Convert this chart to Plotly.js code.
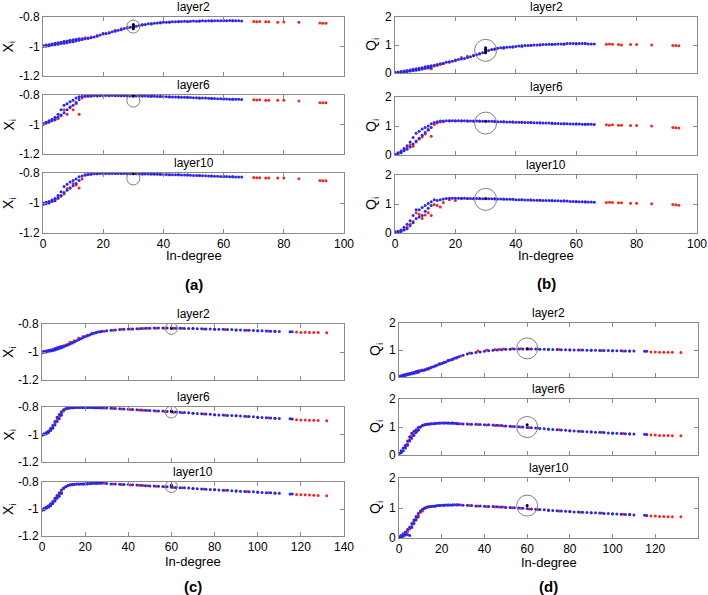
<!DOCTYPE html>
<html><head><meta charset="utf-8">
<script src="https://cdn.plot.ly/plotly-3.0.1.min.js"></script>
<style>html,body{margin:0;padding:0;background:#fff}#chart{width:708px;height:595px}</style>
</head><body><div id="chart"></div>
<script>
// ---------- In-degree values (network of panels a,b) ----------
const blueX_AB=[0,0,1,1,2,2,3,3,4,4,5,5,6,6,7,7,8,8,9,9,10,10,11,11,12,12,13,14,15,16,17,18,19,20,21,22,23,24,25,26,27,28,29,31,32,33,34,35,36,37,38,39,40,41,42,43,44,45,46,47,48,49,50,51,52,53,54,55,56,57,58,59,60,61,62,63,64,65,66];
const redX_AB=[0,1,2,3,4,5,6,7,8,9,10,11,12,13,14,15,16,18,20,22,24,26,28,30,33,36,39,42,45,48,52,56,60,63,70,71,72,74,75,78,80,85,92,93,94];
// ---------- In-degree values (network of panels c,d) ----------
const blueX_CD=[0,0,1,1,2,2,3,3,4,4,5,5,6,6,7,7,8,8,9,9,10,11,12,13,14,15,16,17,18,19,20,21,22,23,24,25,26,27,28,30,32,34,36,38,40,42,44,46,48,50,52,54,56,58,60,62,64,66,68,70,72,74,76,78,80,82,84,86,88,90,92,94,96,98,100,102,104,106,108,110,115,116];
const redX_CD=[1,3,4,5,6,7,8,9,10,11,12,13,14,15,17,19,21,23,25,27,29,33,37,41,45,47,49,53,57,61,65,70,75,80,85,90,95,100,105,108,118,120,122,124,126,128,132];

// ---------- (a) X_i ----------
const aL2_blue=[-1.00,-0.995,-0.998,-0.99,-0.995,-0.988,-0.99,-0.983,-0.988,-0.98,-0.985,-0.975,-0.98,-0.972,-0.978,-0.968,-0.975,-0.962,-0.97,-0.96,-0.968,-0.955,-0.962,-0.952,-0.958,-0.948,
 -0.952,-0.948,-0.942,-0.94,-0.935,-0.93,-0.922,-0.916,-0.912,-0.908,-0.9,-0.896,-0.89,-0.886,-0.878,-0.875,-0.87,
 -0.862,-0.858,-0.855,-0.85,-0.846,-0.845,-0.842,-0.84,-0.838,-0.836,
 -0.835,-0.834,-0.832,-0.833,-0.83,-0.831,-0.829,-0.83,-0.828,-0.827,
 -0.828,-0.827,-0.826,-0.827,-0.826,-0.825,-0.826,-0.825,-0.825,-0.824,
 -0.825,-0.824,-0.825,-0.826,-0.826,-0.827];
const aL2_red=[-0.997,-0.993,-0.99,-0.987,-0.978,-0.98,-0.975,-0.965,-0.968,-0.958,-0.96,-0.95,-0.952,-0.945,-0.94,-0.946,-0.935,
 -0.925,-0.91,-0.905,-0.89,-0.88,-0.872,-0.868,-0.85,-0.848,-0.84,-0.835,-0.832,-0.83,-0.828,-0.827,-0.826,-0.826,
 -0.83,-0.832,-0.83,-0.832,-0.832,-0.835,-0.834,-0.836,-0.84,-0.842,-0.842];
const aL6_blue=[-1.0,-0.995,-0.99,-0.985,-0.985,-0.975,-0.975,-0.965,-0.965,-0.95,-0.95,-0.93,-0.935,-0.9,-0.92,-0.87,-0.9,-0.86,-0.885,-0.845,-0.87,-0.835,-0.85,-0.82,-0.83,-0.812,
 -0.81,-0.807,-0.806,-0.806,-0.805,-0.805,-0.805,-0.804,-0.804,-0.804,-0.804,-0.804,-0.805,-0.805,-0.805,-0.805,-0.806,
 -0.806,-0.806,-0.807,-0.807,-0.808,-0.808,-0.809,-0.81,-0.81,-0.811,
 -0.812,-0.812,-0.813,-0.813,-0.814,-0.815,-0.815,-0.816,-0.817,-0.818,
 -0.819,-0.82,-0.82,-0.821,-0.822,-0.823,-0.824,-0.825,-0.826,-0.827,
 -0.827,-0.828,-0.828,-0.829,-0.829,-0.83];
const aL6_red=[-0.998,-0.99,-0.98,-0.97,-0.97,-0.96,-0.94,-0.9,-0.93,-0.88,-0.9,-0.86,-0.93,-0.82,-0.81,-0.808,-0.807,
 -0.806,-0.805,-0.805,-0.805,-0.805,-0.806,-0.806,-0.807,-0.808,-0.81,-0.813,-0.815,-0.817,-0.82,-0.823,-0.826,-0.828,
 -0.833,-0.834,-0.833,-0.835,-0.835,-0.836,-0.836,-0.84,-0.852,-0.853,-0.852];
const aL10_blue=[-1.01,-1.0,-1.005,-0.995,-1.0,-0.99,-0.99,-0.98,-0.985,-0.97,-0.965,-0.95,-0.95,-0.925,-0.93,-0.89,-0.915,-0.875,-0.9,-0.86,-0.885,-0.85,-0.87,-0.84,-0.85,-0.825,
 -0.82,-0.812,-0.81,-0.808,-0.805,-0.805,-0.804,-0.804,-0.804,-0.804,-0.803,-0.803,-0.804,-0.804,-0.804,-0.805,-0.805,
 -0.805,-0.806,-0.806,-0.806,-0.807,-0.807,-0.808,-0.808,-0.809,-0.81,
 -0.81,-0.811,-0.811,-0.812,-0.812,-0.813,-0.814,-0.814,-0.815,-0.816,
 -0.817,-0.817,-0.818,-0.819,-0.82,-0.82,-0.821,-0.822,-0.823,-0.824,
 -0.824,-0.825,-0.825,-0.826,-0.827,-0.827];
const aL10_red=[-1.005,-1.0,-0.995,-0.985,-0.975,-0.97,-0.955,-0.94,-0.905,-0.9,-0.87,-0.88,-0.9,-0.84,-0.815,-0.81,-0.807,
 -0.805,-0.804,-0.804,-0.804,-0.804,-0.805,-0.805,-0.806,-0.807,-0.809,-0.811,-0.812,-0.814,-0.817,-0.82,-0.823,-0.825,
 -0.83,-0.832,-0.831,-0.833,-0.833,-0.833,-0.834,-0.838,-0.85,-0.852,-0.851];

// ---------- (b) Q_i ----------
const bL2_blue=[0.0,0.03,0.01,0.04,0.02,0.05,0.03,0.07,0.05,0.09,0.07,0.11,0.09,0.13,0.1,0.15,0.12,0.17,0.14,0.19,0.17,0.22,0.19,0.24,0.2,0.26,
 0.28,0.3,0.33,0.35,0.38,0.4,0.42,0.46,0.48,0.5,0.52,0.55,0.58,0.62,0.65,0.68,0.72,
 0.8,0.84,0.86,0.88,0.9,0.91,0.92,0.93,0.94,0.95,
 0.96,0.97,0.98,0.98,0.99,1.0,1.0,1.01,1.02,1.02,
 1.03,1.03,1.03,1.04,1.04,1.04,1.05,1.05,1.05,1.05,
 1.05,1.05,1.05,1.04,1.04,1.04];
const bL2_red=[0.01,0.02,0.03,0.05,0.06,0.08,0.1,0.12,0.14,0.15,0.18,0.18,0.15,0.25,0.27,0.3,0.33,
 0.38,0.44,0.55,0.6,0.63,0.7,0.75,0.85,0.88,0.92,0.95,0.98,1.0,1.02,1.03,1.04,1.05,
 1.03,1.04,1.03,1.02,1.0,1.02,1.02,1.0,0.98,0.98,0.97];
const bL6_blue=[0.0,0.03,0.04,0.08,0.08,0.14,0.15,0.22,0.2,0.32,0.28,0.45,0.38,0.6,0.48,0.75,0.58,0.82,0.68,0.9,0.78,0.95,0.88,1.0,0.95,1.08,
 1.12,1.15,1.17,1.17,1.18,1.18,1.18,1.18,1.18,1.18,1.18,1.17,1.17,1.17,1.17,1.17,1.16,
 1.16,1.16,1.16,1.15,1.15,1.15,1.14,1.14,1.14,1.13,
 1.13,1.13,1.12,1.12,1.12,1.11,1.11,1.11,1.1,1.1,
 1.1,1.09,1.09,1.09,1.08,1.08,1.08,1.07,1.07,1.07,
 1.07,1.06,1.06,1.06,1.06,1.05];
const bL6_red=[0.01,0.05,0.1,0.18,0.25,0.35,0.3,0.45,0.55,0.62,0.72,0.85,0.65,1.05,1.1,1.14,1.15,
 1.17,1.17,1.17,1.17,1.16,1.16,1.16,1.15,1.15,1.14,1.13,1.12,1.1,1.1,1.08,1.07,1.06,
 1.04,1.03,1.04,1.03,1.03,1.02,1.02,1.0,0.95,0.94,0.93];
const bL10_blue=[0.01,0.04,0.03,0.06,0.05,0.1,0.1,0.2,0.15,0.3,0.25,0.42,0.35,0.6,0.5,0.8,0.55,0.8,0.6,0.88,0.75,0.95,0.85,1.02,0.95,1.08,
 1.15,1.12,1.15,1.17,1.19,1.2,1.2,1.2,1.2,1.2,1.2,1.19,1.19,1.19,1.19,1.19,1.18,
 1.18,1.18,1.18,1.17,1.17,1.17,1.16,1.16,1.16,1.15,
 1.15,1.15,1.14,1.14,1.14,1.13,1.13,1.13,1.12,1.12,
 1.12,1.11,1.11,1.11,1.1,1.1,1.1,1.09,1.09,1.08,
 1.08,1.08,1.07,1.07,1.07,1.06];
const bL10_red=[0.02,0.04,0.08,0.12,0.2,0.3,0.4,0.7,0.65,0.5,0.62,0.7,0.6,0.98,0.95,0.9,1.05,
 1.15,1.12,1.18,1.19,1.18,1.18,1.18,1.17,1.16,1.16,1.15,1.14,1.13,1.12,1.11,1.09,1.08,
 1.05,1.06,1.05,1.04,1.04,1.03,1.03,1.01,0.98,0.97,0.96];

// ---------- (c) X_i ----------
const cL2_blue=[-1.005,-1.0,-1.0,-0.995,-1.0,-0.992,-0.995,-0.99,-0.993,-0.985,-0.99,-0.982,-0.985,-0.975,-0.98,-0.97,-0.975,-0.965,-0.97,-0.96,
 -0.962,-0.955,-0.95,-0.942,-0.935,-0.928,-0.92,-0.912,-0.905,-0.898,-0.89,-0.885,-0.878,-0.872,-0.866,-0.862,-0.858,-0.855,-0.852,
 -0.848,-0.845,-0.842,-0.84,-0.838,-0.836,-0.835,-0.834,-0.832,-0.831,
 -0.83,-0.829,-0.829,-0.829,-0.829,-0.83,-0.83,-0.831,-0.832,-0.832,
 -0.833,-0.834,-0.834,-0.835,-0.836,-0.837,-0.838,-0.838,-0.839,-0.84,
 -0.843,-0.843,-0.844,-0.845,-0.846,-0.848,-0.849,-0.85,-0.851,-0.852,-0.853,
 -0.855,-0.855];
const cL2_red=[-1.0,-0.99,-0.99,-0.985,-0.98,-0.975,-0.968,-0.965,-0.955,-0.95,-0.945,-0.93,-0.93,-0.92,
 -0.9,-0.89,-0.88,-0.868,-0.86,-0.855,-0.852,-0.845,-0.838,-0.836,-0.834,-0.832,-0.83,-0.83,-0.83,-0.83,-0.831,
 -0.833,-0.835,-0.837,-0.839,-0.842,-0.845,-0.848,-0.85,-0.852,-0.858,-0.86,-0.859,-0.86,-0.861,-0.861,-0.863];
const cL6_blue=[-1.005,-1.0,-1.0,-0.995,-0.995,-0.985,-0.985,-0.975,-0.97,-0.955,-0.955,-0.935,-0.93,-0.905,-0.905,-0.875,-0.885,-0.855,-0.86,-0.835,
 -0.82,-0.812,-0.808,-0.806,-0.805,-0.804,-0.804,-0.803,-0.803,-0.803,-0.803,-0.804,-0.804,-0.804,-0.805,-0.805,-0.806,-0.806,-0.807,
 -0.808,-0.809,-0.811,-0.812,-0.814,-0.816,-0.818,-0.82,-0.822,-0.824,
 -0.826,-0.827,-0.829,-0.83,-0.832,-0.834,-0.836,-0.838,-0.84,-0.842,
 -0.846,-0.847,-0.849,-0.851,-0.853,-0.856,-0.858,-0.859,-0.861,-0.862,
 -0.864,-0.866,-0.868,-0.869,-0.871,-0.874,-0.876,-0.878,-0.88,-0.882,-0.884,
 -0.886,-0.887];
const cL6_red=[-0.998,-0.98,-0.965,-0.95,-0.92,-0.89,-0.87,-0.845,-0.83,-0.815,-0.81,-0.808,-0.806,-0.805,
 -0.804,-0.803,-0.803,-0.804,-0.805,-0.806,-0.807,-0.81,-0.814,-0.818,-0.822,-0.823,-0.825,-0.829,-0.833,-0.838,-0.841,
 -0.846,-0.851,-0.857,-0.86,-0.864,-0.869,-0.875,-0.879,-0.882,-0.892,-0.895,-0.895,-0.896,-0.897,-0.898,-0.9];
const cL10_blue=[-1.01,-1.005,-1.005,-0.995,-0.995,-0.985,-0.985,-0.975,-0.975,-0.962,-0.96,-0.945,-0.94,-0.92,-0.92,-0.9,-0.905,-0.88,-0.885,-0.86,
 -0.845,-0.835,-0.826,-0.82,-0.818,-0.816,-0.815,-0.815,-0.814,-0.814,-0.813,-0.812,-0.812,-0.811,-0.81,-0.81,-0.809,-0.808,-0.808,
 -0.812,-0.814,-0.815,-0.816,-0.818,-0.819,-0.821,-0.823,-0.825,-0.827,
 -0.829,-0.83,-0.832,-0.834,-0.836,-0.838,-0.84,-0.842,-0.843,-0.845,
 -0.848,-0.85,-0.852,-0.853,-0.855,-0.857,-0.859,-0.861,-0.862,-0.864,
 -0.866,-0.868,-0.87,-0.872,-0.873,-0.875,-0.877,-0.879,-0.88,-0.882,-0.884,
 -0.888,-0.889];
const cL10_red=[-1.0,-0.985,-0.97,-0.955,-0.935,-0.905,-0.89,-0.875,-0.85,-0.835,-0.828,-0.822,-0.82,-0.818,
 -0.816,-0.815,-0.814,-0.812,-0.811,-0.81,-0.81,-0.815,-0.818,-0.822,-0.824,-0.826,-0.828,-0.832,-0.836,-0.84,-0.843,
 -0.848,-0.852,-0.856,-0.862,-0.866,-0.87,-0.874,-0.88,-0.884,-0.892,-0.894,-0.895,-0.897,-0.898,-0.9,-0.902];

// ---------- (d) Q_i ----------
const dL2_blue=[0.0,0.03,0.02,0.05,0.04,0.07,0.06,0.09,0.08,0.11,0.1,0.13,0.12,0.15,0.14,0.17,0.16,0.2,0.18,0.22,
 0.22,0.24,0.27,0.29,0.32,0.35,0.38,0.41,0.44,0.47,0.5,0.53,0.56,0.6,0.63,0.66,0.69,0.72,0.75,
 0.81,0.85,0.88,0.91,0.93,0.95,0.97,0.99,1.0,1.01,
 1.03,1.03,1.04,1.04,1.04,1.04,1.04,1.04,1.03,1.03,
 1.02,1.02,1.02,1.01,1.01,1.0,1.0,1.0,1.0,0.99,
 0.99,0.99,0.98,0.98,0.98,0.97,0.97,0.97,0.96,0.96,0.96,
 0.95,0.95];
const dL2_red=[0.02,0.08,0.1,0.13,0.14,0.17,0.18,0.21,0.24,0.26,0.25,0.31,0.3,0.36,
 0.42,0.5,0.55,0.62,0.64,0.7,0.78,0.89,0.96,1.0,1.02,1.03,1.04,1.05,1.05,1.04,1.04,
 1.03,1.02,1.01,1.0,0.99,0.98,0.97,0.96,0.96,0.93,0.93,0.92,0.92,0.92,0.92,0.91];
const dL6_blue=[0.0,0.05,0.08,0.15,0.15,0.25,0.25,0.35,0.35,0.5,0.5,0.65,0.6,0.78,0.7,0.85,0.8,0.9,0.88,0.98,
 1.0,1.05,1.08,1.1,1.11,1.12,1.12,1.13,1.13,1.14,1.14,1.14,1.14,1.14,1.13,1.13,1.13,1.12,1.12,
 1.11,1.11,1.1,1.1,1.09,1.08,1.08,1.07,1.06,1.05,
 1.04,1.03,1.02,1.01,1.0,0.98,0.97,0.96,0.95,0.94,
 0.92,0.91,0.9,0.89,0.88,0.87,0.86,0.85,0.84,0.83,
 0.82,0.81,0.81,0.8,0.79,0.78,0.78,0.77,0.76,0.75,0.75,
 0.74,0.73];
const dL6_red=[0.1,0.3,0.4,0.55,0.7,0.75,0.85,0.9,1.0,1.05,1.08,1.1,1.1,1.12,
 1.12,1.13,1.14,1.14,1.15,1.13,1.12,1.1,1.09,1.07,1.05,1.05,1.04,1.02,1.0,0.98,0.96,
 0.93,0.9,0.87,0.85,0.83,0.81,0.79,0.77,0.76,0.71,0.71,0.7,0.7,0.7,0.69,0.69];
const dL10_blue=[0.0,0.04,0.03,0.08,0.06,0.14,0.1,0.2,0.12,0.28,0.08,0.36,0.35,0.48,0.48,0.6,0.6,0.72,0.7,0.82,
 0.9,0.96,1.0,1.03,1.04,1.05,1.06,1.07,1.08,1.08,1.09,1.09,1.1,1.1,1.1,1.1,1.11,1.11,1.11,
 1.09,1.09,1.08,1.07,1.07,1.06,1.05,1.05,1.04,1.03,
 1.02,1.02,1.01,1.0,0.99,0.98,0.97,0.96,0.95,0.94,
 0.92,0.92,0.91,0.9,0.89,0.88,0.87,0.87,0.86,0.85,
 0.84,0.84,0.83,0.82,0.82,0.81,0.8,0.79,0.78,0.78,0.77,
 0.76,0.75];
const dL10_red=[0.05,0.15,0.22,0.3,0.4,0.55,0.65,0.75,0.85,0.9,0.98,1.02,1.04,1.05,
 1.06,1.08,1.09,1.1,1.1,1.1,1.1,1.08,1.07,1.05,1.04,1.03,1.03,1.01,0.99,0.97,0.95,
 0.93,0.9,0.88,0.86,0.84,0.83,0.8,0.79,0.78,0.73,0.73,0.72,0.72,0.71,0.71,0.71];

// ---------- highlighted node (black) and circle marks ----------
const hlX=[30,30,30,60,60,60];
const hl_a=[[-0.85,-0.86,-0.87,-0.88],[-0.807],[-0.805]];
const hl_b=[[0.72,0.78,0.84,0.9],[1.16],[1.19]];
const hl_c=[[-0.828],[-0.83],[-0.825]];
const hl_d=[[1.05],[1.08],[1.08]];
const circ_a=[-0.865,-0.838,-0.836];
const circ_b=[0.81,1.1,1.16];
const circ_c=[-0.831,-0.836,-0.833];
const circ_d=[1.06,1.0,1.08];

const layerNames=['layer2','layer6','layer10'];
const panelLabels=['(a)','(b)','(c)','(d)'];
const xTicksAB=[0,20,40,60,80,100];
const xTicksCD=[0,20,40,60,80,100,120,140];
const xiTicks=[-1.2,-1,-0.8];
const qTicks=[0,1,2];

// ---------- layout geometry (pixels) ----------
const W=708,H=595;
const panels=[
 {xpx:[43,344], ypx:[[17,76],[95,154],[173,233]], xr:[0,100], xt:xTicksAB, yr:[-1.2,-0.8], yt:xiTicks, ylab:'X<sub>i</sub>', ylabX:9, circSize:13,
  bx:blueX_AB, rx:redX_AB, by:[aL2_blue,aL6_blue,aL10_blue], ry:[aL2_red,aL6_red,aL10_red], hl:hl_a, circ:circ_a, hx:hlX[0], xlabY:255, plabY:284},
 {xpx:[395,697], ypx:[[17,73],[97,155],[175,233]], xr:[0,100], xt:xTicksAB, yr:[0,2], yt:qTicks, ylab:'Q<sub>i</sub>', ylabX:372, circSize:22,
  bx:blueX_AB, rx:redX_AB, by:[bL2_blue,bL6_blue,bL10_blue], ry:[bL2_red,bL6_red,bL10_red], hl:hl_b, circ:circ_b, hx:hlX[1], xlabY:255, plabY:283},
 {xpx:[42,344], ypx:[[324,380],[407,462],[482,536]], xr:[0,140], xt:xTicksCD, yr:[-1.2,-0.8], yt:xiTicks, ylab:'X<sub>i</sub>', ylabX:9, circSize:12,
  bx:blueX_CD, rx:redX_CD, by:[cL2_blue,cL6_blue,cL10_blue], ry:[cL2_red,cL6_red,cL10_red], hl:hl_c, circ:circ_c, hx:hlX[3], xlabY:561, plabY:586},
 {xpx:[399,698], ypx:[[323,377],[399,455],[478,538]], xr:[0,140], xt:xTicksCD, yr:[0,2], yt:qTicks, ylab:'Q<sub>i</sub>', ylabX:376, circSize:21,
  bx:blueX_CD, rx:redX_CD, by:[dL2_blue,dL6_blue,dL10_blue], ry:[dL2_red,dL6_red,dL10_red], hl:hl_d, circ:circ_d, hx:hlX[4], xlabY:562, plabY:586}
];

const FONT='"Liberation Sans", Arial, sans-serif';
const data=[]; const annotations=[];
const layout={width:W,height:H,margin:{l:0,r:0,t:0,b:0},paper_bgcolor:'#fff',plot_bgcolor:'#fff',
  showlegend:false,font:{family:FONT,size:12,color:'#000'},annotations:annotations};
const axisStyle={showline:true,mirror:'ticks',linecolor:'#8a8a8a',linewidth:1,ticks:'inside',ticklen:4,tickcolor:'#8a8a8a',
  showgrid:false,zeroline:false,fixedrange:true,tickfont:{family:FONT,size:12,color:'#000'}};

let k=0;
panels.forEach((p,pi)=>{
  for(let li=0;li<3;li++){
    k++;
    const xa='x'+(k===1?'':k), ya='y'+(k===1?'':k);
    const top=p.ypx[li][0], bot=p.ypx[li][1];
    layout['xaxis'+(k===1?'':k)]=Object.assign({},axisStyle,{domain:[p.xpx[0]/W,p.xpx[1]/W],range:p.xr,tickvals:p.xt,
      showticklabels:li===2,anchor:ya});
    layout['yaxis'+(k===1?'':k)]=Object.assign({},axisStyle,{domain:[1-bot/H,1-top/H],range:p.yr,tickvals:p.yt,
      ticktext:p.yt.map(v=>String(v)),anchor:xa});
    data.push({type:'scatter',mode:'markers',x:p.rx,y:p.ry[li],xaxis:xa,yaxis:ya,
      marker:{color:'rgb(240,40,40)',size:3,line:{width:0}},hoverinfo:'skip'});
    data.push({type:'scatter',mode:'markers',x:p.bx,y:p.by[li],xaxis:xa,yaxis:ya,
      marker:{color:'rgb(40,40,235)',size:3,line:{width:0}},hoverinfo:'skip'});
    data.push({type:'scatter',mode:'markers',x:p.hl[li].map(()=>p.hx),y:p.hl[li],xaxis:xa,yaxis:ya,
      marker:{color:'#000',size:3,line:{width:0}},hoverinfo:'skip'});
    data.push({type:'scatter',mode:'markers',x:[p.hx],y:[p.circ[li]],xaxis:xa,yaxis:ya,
      marker:{symbol:'circle-open',color:'#808080',size:p.circSize,line:{width:1,color:'#808080'}},hoverinfo:'skip'});
    // layer title
    annotations.push({xref:'paper',yref:'paper',x:(p.xpx[0]+p.xpx[1])/2/W,y:1-(top-10)/H,xanchor:'center',yanchor:'middle',
      text:layerNames[li],showarrow:false,font:{family:FONT,size:12,color:'#000'}});
    // y-axis title
    annotations.push({xref:'paper',yref:'paper',x:p.ylabX/W,y:1-((top+bot)/2)/H,xanchor:'center',yanchor:'middle',
      text:p.ylab,textangle:-90,showarrow:false,font:{family:FONT,size:14,color:'#000'}});
  }
  const cxp=(p.xpx[0]+p.xpx[1])/2/W;
  annotations.push({xref:'paper',yref:'paper',x:cxp,y:1-p.xlabY/H,xanchor:'center',yanchor:'middle',
    text:'In-degree',showarrow:false,font:{family:FONT,size:13,color:'#000'}});
  annotations.push({xref:'paper',yref:'paper',x:cxp,y:1-p.plabY/H,xanchor:'center',yanchor:'middle',
    text:'<b>'+panelLabels[pi]+'</b>',showarrow:false,font:{family:FONT,size:15,color:'#000'}});
});

Plotly.newPlot('chart',data,layout,{staticPlot:true,displayModeBar:false});
</script>
</body></html>
